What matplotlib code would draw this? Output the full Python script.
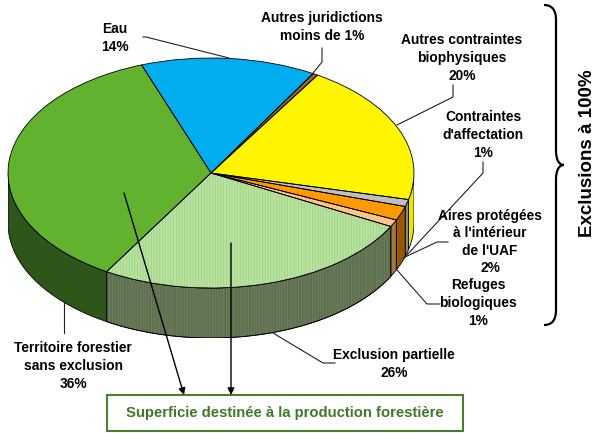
import numpy as np
import matplotlib
matplotlib.use("Agg")
import matplotlib.pyplot as plt
from matplotlib.patches import Polygon, Rectangle, PathPatch
from matplotlib.path import Path

# ---------------- data ----------------
categories = ["Eau", "Autres juridictions", "Autres contraintes biophysiques",
              "Contraintes d'affectation", "Aires protégées à l'intérieur de l'UAF",
              "Refuges biologiques", "Exclusion partielle", "Territoire forestier sans exclusion"]
values = [14, 0.4, 20, 1, 2, 1, 26, 36]
top_colors = ["#00AEEF", "#996633", "#FFF500", "#C0C0C0", "#FF9900", "#FFC585", "#B8E3A0", "#63B22F"]
side_colors = ["#006F99", "#5C3D1F", "#EDE400", "#8A8A8A", "#9B5700", "#A0764B", "#5E7050", "#2F561A"]
label_texts = ["Eau\n14%", "Autres juridictions\nmoins de 1%", "Autres contraintes\nbiophysiques\n20%",
               "Contraintes\nd'affectation\n1%", "Aires protégées\nà l'intérieur\nde l'UAF\n2%",
               "Refuges\nbiologiques\n1%", "Exclusion partielle\n26%",
               "Territoire forestier\nsans exclusion\n36%"]
box_text = "Superficie destinée à la production forestière"
brace_text = "Exclusions à 100%"

plt.rcParams['font.family'] = ['Liberation Sans', 'DejaVu Sans']
plt.rcParams['hatch.linewidth'] = 0.6

W, H = 600, 433
fig = plt.figure(figsize=(6, 4.33), dpi=100)

# ---------------- 3D pie ----------------
START = 110
DEPTH = 50 / 115.0
pax = fig.add_axes([8 / W, (H - 338) / H, 406 / W, 280 / H])
pax.set_axis_off()

wedges, _ = pax.pie(values, colors=top_colors, startangle=START, counterclock=False,
                    radius=1, wedgeprops=dict(linewidth=0, edgecolor='none'))
hatch_idx = 6
wedges[hatch_idx].set_hatch('||||||')
wedges[hatch_idx].set_edgecolor('#A2D389')
for w in wedges:
    w.set_zorder(3)
outl, _ = pax.pie(values, colors=['none'] * len(values), startangle=START, counterclock=False,
                  radius=1, wedgeprops=dict(linewidth=0.6, edgecolor='black', fill=False))
for w in outl:
    w.set_zorder(4)

vals = np.asarray(values, dtype=float)
frac = vals / vals.sum()
cum = np.concatenate([[0], np.cumsum(frac)])
for i in range(len(vals)):
    hi = START - 360 * cum[i]
    lo = START - 360 * cum[i + 1]
    a, b = max(lo, -180), min(hi, 0)
    if b <= a:
        continue
    t = np.radians(np.linspace(a, b, 80))
    top = np.column_stack([np.cos(t), np.sin(t)])
    bot = np.column_stack([np.cos(t), np.sin(t) - DEPTH])[::-1]
    poly = Polygon(np.vstack([top, bot]), closed=True, facecolor=side_colors[i],
                   edgecolor='black', linewidth=0.6, zorder=1)
    pax.add_patch(poly)
    if i == hatch_idx:
        hp = Polygon(np.vstack([top, bot]), closed=True, facecolor='none',
                     edgecolor='#6E805F', linewidth=0, hatch='||||||', zorder=2)
        pax.add_patch(hp)
        pax.add_patch(Polygon(np.vstack([top, bot]), closed=True, facecolor='none',
                              edgecolor='black', linewidth=0.6, zorder=2.5))

pax.set_aspect('auto')
pax.set_xlim(-1, 1)
pax.set_ylim(-1 - DEPTH, 1)

# ---------------- overlay (pixel coords) ----------------
ax = fig.add_axes([0, 0, 1, 1])
ax.set_xlim(0, W)
ax.set_ylim(H, 0)
ax.set_axis_off()
ax.patch.set_visible(False)

fs = 9.9
lab_pos = [(115, 38), (322, 27), (462, 58), (483, 135), (490, 242), (478, 303), (394, 364), (73, 366)]
for txt, (x, y) in zip(label_texts, lab_pos):
    ax.text(x, y, txt, ha='center', va='center', fontsize=fs, fontweight='bold',
            linespacing=1.32, color='black')

lc = '#222222'
leaders = [
    [(143, 37), (146, 37), (229, 58)],
    [(322, 48), (322, 62), (313, 73)],
    [(453, 85), (453, 97), (397, 125)],
    [(483, 162), (483, 173), (405, 257)],
    [(448, 242), (437, 242), (403, 258)],
    [(440, 304), (427, 304), (397, 270)],
    [(335, 363), (323, 363), (273, 333)],
    [(64, 333), (64, 303)],
]
for pts in leaders:
    xs, ys = zip(*pts)
    ax.plot(xs, ys, color=lc, linewidth=0.8)

arrow_kw = dict(arrowstyle='-|>', color='black', lw=1.0, mutation_scale=10, shrinkA=0, shrinkB=0)
ax.annotate('', xy=(184, 395), xytext=(124, 193), arrowprops=arrow_kw)
ax.annotate('', xy=(231, 395), xytext=(231, 243), arrowprops=arrow_kw)

ax.add_patch(Rectangle((107, 395), 356, 36, facecolor='white', edgecolor='#4A7F33', linewidth=1.5))
ax.text(285, 413, box_text, ha='center', va='center', fontsize=10.7, fontweight='bold', color='#3F7A2A')

verts = [(544, 5), (552, 5), (556, 10), (556, 20),
         (556, 150),
         (556, 160), (559, 165), (564, 165),
         (559, 165), (556, 170), (556, 180),
         (556, 310),
         (556, 320), (552, 325), (544, 325)]
codes = [Path.MOVETO, Path.CURVE4, Path.CURVE4, Path.CURVE4,
         Path.LINETO,
         Path.CURVE4, Path.CURVE4, Path.CURVE4,
         Path.CURVE4, Path.CURVE4, Path.CURVE4,
         Path.LINETO,
         Path.CURVE4, Path.CURVE4, Path.CURVE4]
ax.add_patch(PathPatch(Path(verts, codes), facecolor='none', edgecolor='black', linewidth=1.6))
ax.text(588, 153, brace_text, rotation=90, ha='center', va='center', fontsize=13.5,
        fontweight='bold', color='black')

fig.savefig('out.png', dpi=100)
